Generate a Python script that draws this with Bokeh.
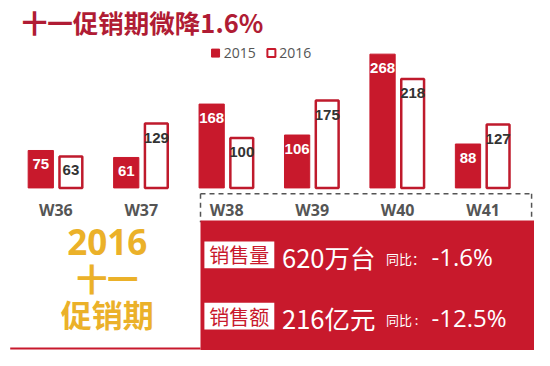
from bokeh.plotting import figure
from bokeh.models import Range1d, ColumnDataSource
from bokeh.core.properties import value
from bokeh.embed import file_html
from bokeh.resources import INLINE

# ---- data ----
weeks = ["W36", "W37", "W38", "W39", "W40", "W41"]
sales_2015 = [75, 61, 168, 106, 268, 88]
sales_2016 = [63, 129, 100, 175, 218, 127]
series_names = ["2015", "2016"]
title_text = "十一促销期微降1.6%"
kpi_names = ["销售量", "销售额"]
kpi_values = ["620万台", "216亿元"]
kpi_yoy_labels = ["同比：", "同比 :"]
kpi_yoy = ["-1.6%", "-12.5%"]
side_lines = ["2016", "十一", "促销期"]

# ---- layout helpers (reference pixel -> data coords) ----
W, H = 534, 350
X0, DX = 57.0, 88.0          # group centre of first week, spacing (px)
BASE, K = 196.0, 0.522       # baseline px, px per unit


def X(px):
    return (px - X0) / DX


def Y(py):
    return (BASE - py) / K


RED = "#c8192c"
DARK_RED = "#b01c34"
GOLD = "#ebb129"
GRAY = "#555555"
CJK = value("Noto Sans CJK SC")
LAT = value("Open Sans")
NUM = value("Liberation Sans")

p = figure(width=W, height=H, output_backend="svg", toolbar_location=None,
           x_range=Range1d(X(0), X(550)), y_range=Range1d(Y(366), Y(0)),
           x_axis_type=None, y_axis_type=None, min_border=0)
p.grid.visible = False
p.outline_line_color = None
p.background_fill_color = "white"
p.border_fill_color = "white"

idx = list(range(len(weeks)))
off = 15.5 / DX
bw = 26 / DX
src = ColumnDataSource(dict(
    x1=[i - off for i in idx], x2=[i + off for i in idx],
    v1=sales_2015, v2=sales_2016,
    t1=[str(v) for v in sales_2015], t2=[str(v) for v in sales_2016],
    xc=idx, wk=weeks))

# bars
p.vbar(x="x1", top="v1", bottom=0, width=bw, source=src,
       fill_color=RED, line_color=RED, line_width=1)
p.vbar(x="x2", top="v2", bottom=0, width=bw - 2.5 / DX, source=src,
       fill_color="white", line_color="#bf1a2c", line_width=2.5)

# value labels
p.text(x="x1", y="v1", text="t1", source=src, text_align="center",
       text_baseline="middle", y_offset=14, text_font=NUM,
       text_font_style="bold", text_font_size="15px", text_color="white")
p.text(x="x2", y="v2", text="t2", source=src, text_align="center",
       text_baseline="middle", y_offset=14, text_font=NUM,
       text_font_style="bold", text_font_size="15px", text_color="#333333")

# week labels
p.text(x="xc", y=Y(219), text="wk", source=src, text_align="center",
       text_baseline="middle", text_font=LAT, text_font_style="bold",
       text_font_size="16px", text_color=GRAY)

# title
p.text(x=[X(22)], y=[Y(22)], text=[title_text], text_baseline="middle",
       text_font=CJK, text_font_style="bold", text_font_size="25.5px",
       text_color=DARK_RED)

# legend
p.scatter(x=[X(221.5)], y=[Y(55)], marker="square", size=8,
          fill_color=RED, line_color=RED)
p.text(x=[X(230)], y=[Y(55)], text=[series_names[0]], text_baseline="middle",
       text_font=LAT, text_font_size="14px", text_color=GRAY)
p.scatter(x=[X(279)], y=[Y(55)], marker="square", size=8,
          fill_color="white", line_color=RED, line_width=2)
p.text(x=[X(287)], y=[Y(55)], text=[series_names[1]], text_baseline="middle",
       text_font=LAT, text_font_size="14px", text_color=GRAY)

# dashed box
p.multi_line(xs=[[X(206), X(547)], [X(206), X(206)], [X(547), X(547)]],
             ys=[[Y(202), Y(202)], [Y(202), Y(232)], [Y(202), Y(230)]],
             line_color=GRAY, line_width=1.5, line_dash="5 4")

# red panel
p.quad(left=[X(206)], right=[X(552)], top=[Y(230)], bottom=[Y(368)],
       fill_color=RED, line_color=None)
p.segment(x0=[X(10)], y0=[Y(364)], x1=[X(206)], y1=[Y(364)],
          line_color=RED, line_width=2)

# panel rows
row_y = [266, 330]
for r in range(2):
    cy = row_y[r]
    p.quad(left=[X(210)], right=[X(282)], top=[Y(cy - 14)], bottom=[Y(cy + 14)],
           fill_color="white", line_color=None)
    p.text(x=[X(246)], y=[Y(cy)], text=[kpi_names[r]], text_align="center",
           text_baseline="middle", text_font=CJK, text_font_size="20px",
           text_color=RED)
    p.text(x=[X(290)], y=[Y(cy + 2)], text=[kpi_values[r]],
           text_baseline="middle", text_font=CJK, text_font_size="25.5px",
           text_color="white")
    p.text(x=[X(397)], y=[Y(cy + 4)], text=[kpi_yoy_labels[r]],
           text_baseline="middle", text_font=CJK, text_font_size="13px",
           text_color="white")
    p.text(x=[X(444)], y=[Y(cy + 2)], text=[kpi_yoy[r]],
           text_baseline="middle", text_font=LAT, text_font_size="24px",
           text_color="white")

# left gold text
side_y = [253, 290, 327]
side_sz = ["35px", "31px", "31px"]
side_font = [LAT, CJK, CJK]
for t, yy, sz, f in zip(side_lines, side_y, side_sz, side_font):
    p.text(x=[X(110)], y=[Y(yy)], text=[t], text_align="center",
           text_baseline="middle", text_font=f, text_font_style="bold",
           text_font_size=sz, text_color=GOLD)

open("out.html", "w").write(file_html(p, INLINE))
